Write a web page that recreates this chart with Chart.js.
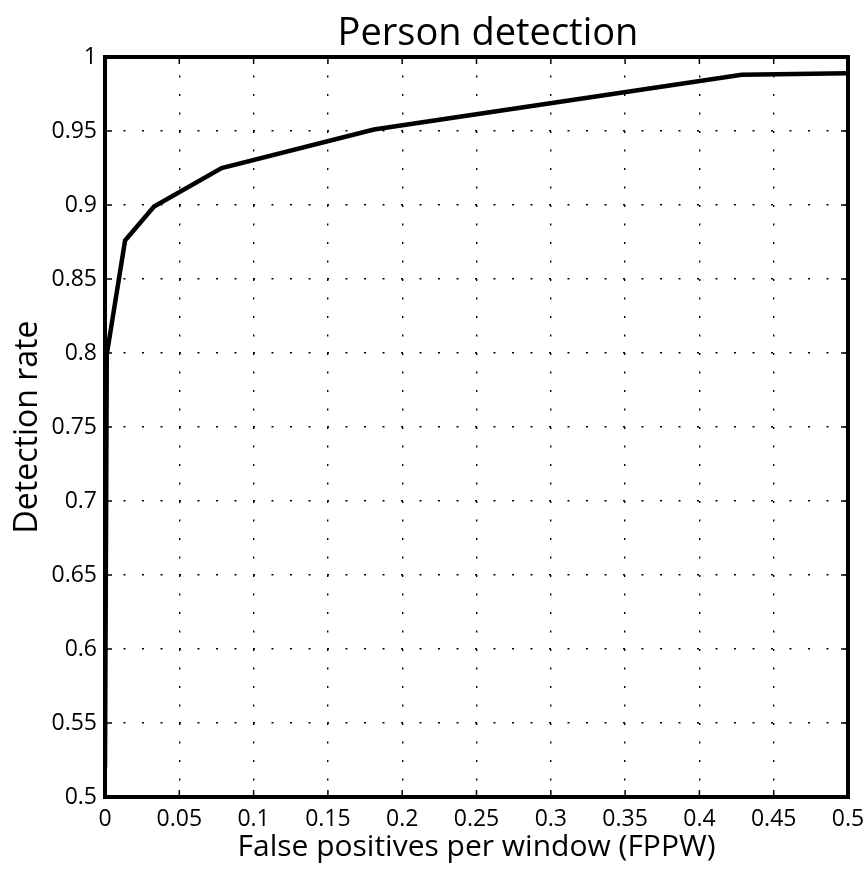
<!DOCTYPE html>
<html>
<head>
<meta charset="utf-8">
<script src="https://cdn.jsdelivr.net/npm/chart.js@4.4.1/dist/chart.umd.min.js"></script>
<style>
  html, body { margin: 0; padding: 0; background: #ffffff; }
  #wrap { width: 865px; height: 880px; }
</style>
</head>
<body>
<div id="wrap"><canvas id="c" width="865" height="880"></canvas></div>
<script>
// ---- data ----
const fppw = [0, 0.0012, 0.0135, 0.033, 0.0785, 0.181, 0.4285, 0.5];
const detectionRate = [0.52, 0.799, 0.876, 0.899, 0.925, 0.951, 0.988, 0.989];
const xTickValues = [0, 0.05, 0.1, 0.15, 0.2, 0.25, 0.3, 0.35, 0.4, 0.45, 0.5];
const yTickValues = [0.5, 0.55, 0.6, 0.65, 0.7, 0.75, 0.8, 0.85, 0.9, 0.95, 1];
const titleText = 'Person detection';
const xTitle = 'False positives per window (FPPW)';
const yTitle = 'Detection rate';

const FONT = "'Open Sans', 'Noto Sans', sans-serif";
const fmt = v => String(Number(v.toFixed(2)));

const boxPlugin = {
  id: 'boxAndTicks',
  afterLayout(chart) {
    // centre the title a little right of the plot centre, as in the reference
    const t = chart.titleBlock;
    if (t) { t.left = 128; t.right = 848; }
  },
  afterDraw(chart) {
    const {ctx, chartArea: a, scales} = chart;
    const tl = 7;
    ctx.save();
    ctx.strokeStyle = '#000';
    ctx.lineWidth = 1.5;
    ctx.beginPath();
    scales.x.ticks.forEach(t => {
      const px = scales.x.getPixelForValue(t.value);
      ctx.moveTo(px, a.bottom); ctx.lineTo(px, a.bottom - tl);
      ctx.moveTo(px, a.top); ctx.lineTo(px, a.top + tl);
    });
    scales.y.ticks.forEach(t => {
      const py = scales.y.getPixelForValue(t.value);
      ctx.moveTo(a.left, py); ctx.lineTo(a.left + tl, py);
      ctx.moveTo(a.right, py); ctx.lineTo(a.right - tl, py);
    });
    ctx.stroke();
    ctx.lineWidth = 4;
    ctx.strokeRect(a.left, a.top, a.right - a.left, a.bottom - a.top);
    ctx.restore();
  }
};

new Chart(document.getElementById('c'), {
  type: 'line',
  data: {
    datasets: [{
      data: fppw.map((x, i) => ({x: x, y: detectionRate[i]})),
      borderColor: '#000',
      borderWidth: 4.5,
      pointRadius: 0,
      tension: 0,
      fill: false
    }]
  },
  options: {
    responsive: false,
    animation: false,
    devicePixelRatio: 1,
    layout: { padding: { left: 0, right: 17, top: 0, bottom: 0 } },
    plugins: {
      legend: { display: false },
      tooltip: { enabled: false },
      title: {
        display: true,
        text: titleText,
        color: '#000',
        font: { family: FONT, size: 38, weight: 'normal', lineHeight: 1.2 },
        padding: { top: 11, bottom: 0.4 }
      }
    },
    scales: {
      x: {
        type: 'linear',
        min: 0, max: 0.5,
        afterBuildTicks: s => { s.ticks = xTickValues.map(v => ({value: v})); },
        afterFit: s => { s.height = 83; s.paddingLeft = 0; s.paddingRight = 0; },
        ticks: {
          color: '#000',
          padding: 9,
          maxRotation: 0,
          autoSkip: false,
          font: { family: FONT, size: 23 },
          callback: v => fmt(v)
        },
        grid: { color: '#000', lineWidth: 1.4, drawTicks: false, tickLength: 0 },
        border: { display: false, dash: [2, 16.5] },
        title: {
          display: true, text: xTitle, color: '#000',
          font: { family: FONT, size: 30, lineHeight: 1.2 },
          padding: { top: 0, bottom: 15 }
        }
      },
      y: {
        type: 'linear',
        min: 0.5, max: 1,
        afterBuildTicks: s => { s.ticks = yTickValues.map(v => ({value: v})); },
        afterFit: s => { s.width = 105; s.paddingTop = 0; s.paddingBottom = 0; },
        ticks: {
          color: '#000',
          padding: 8,
          autoSkip: false,
          font: { family: FONT, size: 23 },
          callback: v => fmt(v)
        },
        grid: { color: '#000', lineWidth: 1.4, drawTicks: false, tickLength: 0 },
        border: { display: false, dash: [2, 16.5] },
        title: {
          display: true, text: yTitle, color: '#000',
          font: { family: FONT, size: 32, lineHeight: 1.2 },
          padding: { top: 9, bottom: 0 }
        }
      }
    }
  },
  plugins: [boxPlugin]
});
</script>
</body>
</html>
